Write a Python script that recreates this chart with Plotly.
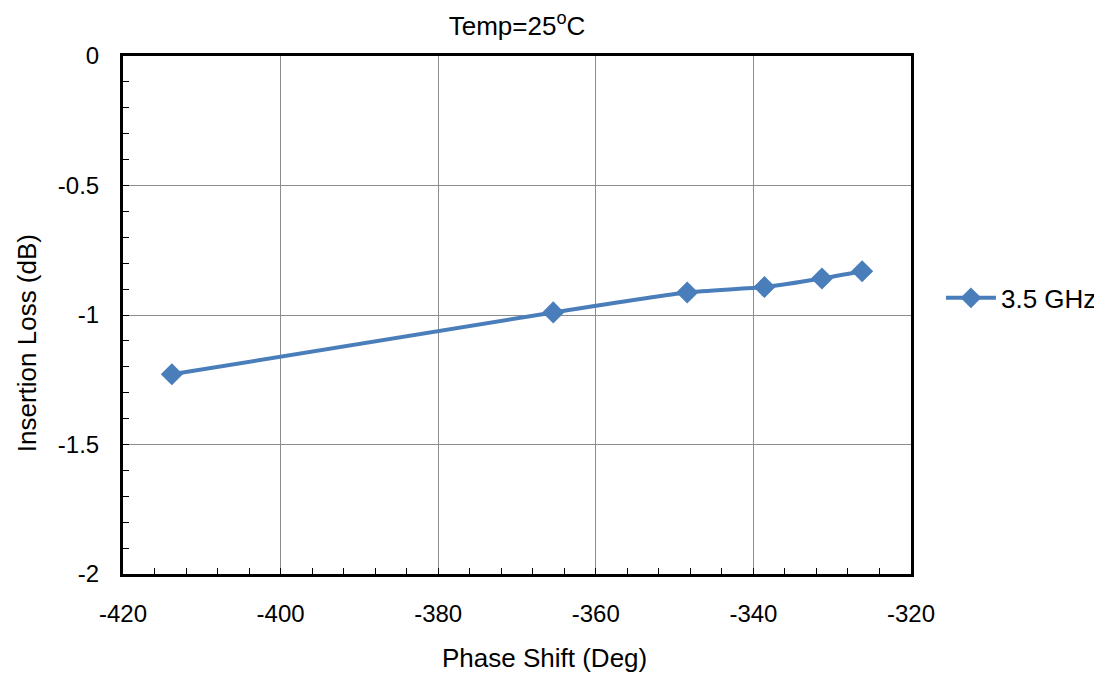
import plotly.graph_objects as go

phase_shift = [-413.8, -365.4, -348.4, -338.6, -331.3, -326.2]
insertion_loss = [-1.229, -0.990, -0.913, -0.892, -0.859, -0.831]
series_name = "3.5 GHz"

x_tick_vals = [-420, -400, -380, -360, -340, -320]
x_tick_text = ["-420", "-400", "-380", "-360", "-340", "-320"]
y_tick_vals = [0, -0.5, -1, -1.5, -2]
y_tick_text = ["0", "-0.5", "-1", "-1.5", "-2"]

FONT = "Liberation Sans, Arial, sans-serif"

fig = go.Figure()
fig.add_trace(go.Scatter(
    x=phase_shift, y=insertion_loss, name=series_name,
    mode="lines+markers",
    line=dict(color="#4a7ebb", width=4, shape="spline", smoothing=0.5),
    marker=dict(symbol="diamond", size=17, color="#4a7ebb"),
))

axis_common = dict(
    showline=True, linecolor="black", linewidth=3, mirror=True,
    showgrid=True, gridcolor="#8c8c8c", gridwidth=1,
    zeroline=False, ticks="inside", ticklen=6, tickcolor="black", tickwidth=1,
    tickfont=dict(family=FONT, size=24, color="black"),
    tickmode="array",
)

fig.update_xaxes(
    range=[-420, -320], tickvals=x_tick_vals, ticktext=x_tick_text,
    minor=dict(dtick=4, tick0=-420, ticks="inside", ticklen=6, tickcolor="black", showgrid=False),
    ticklabelstandoff=16,
    **axis_common,
)
fig.update_yaxes(
    range=[-2, 0], tickvals=y_tick_vals, ticktext=y_tick_text,
    minor=dict(dtick=0.1, tick0=0, ticks="inside", ticklen=6, tickcolor="black", showgrid=False),
    ticklabelstandoff=16,
    **axis_common,
)

fig.add_annotation(text="Phase Shift (Deg)", xref="paper", yref="paper",
                   x=0.535, y=-0.1615, xanchor="center", yanchor="middle",
                   showarrow=False, font=dict(family=FONT, size=26, color="black"))
fig.add_annotation(text="Insertion Loss (dB)", xref="paper", yref="paper",
                   x=-0.1215, y=0.446, xanchor="center", yanchor="middle", textangle=-90,
                   showarrow=False, font=dict(family=FONT, size=26, color="black"))

fig.update_layout(
    width=1094, height=666,
    margin=dict(l=115, r=191, t=48, b=100, autoexpand=False),
    paper_bgcolor="white", plot_bgcolor="white",
    title=dict(text="Temp=25<sup>o</sup>C", x=0.5, xanchor="center", xref="paper",
               y=0.987, yanchor="top",
               font=dict(family=FONT, size=26, color="black")),
    showlegend=True,
    legend=dict(x=1.038, y=0.533, xanchor="left", yanchor="middle",
                font=dict(family=FONT, size=26, color="black"),
                itemwidth=50, bgcolor="rgba(0,0,0,0)"),
)

fig.write_html("out.html")
